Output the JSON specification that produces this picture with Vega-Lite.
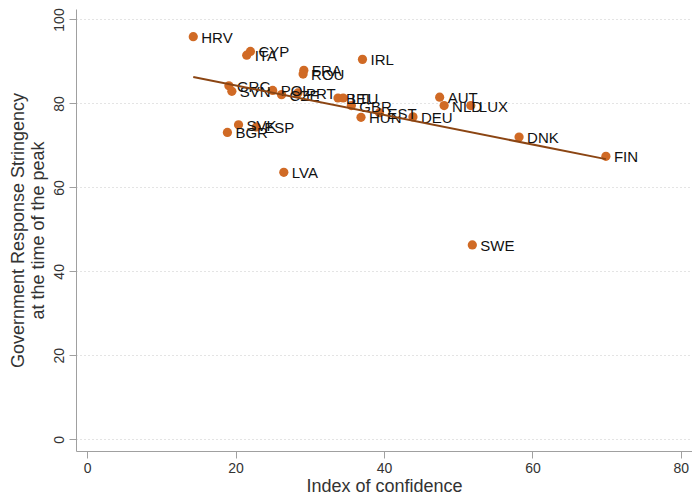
{
  "$schema": "https://vega.github.io/schema/vega-lite/v6.json",
  "autosize": {"type": "none"},
  "width": 616,
  "height": 442,
  "padding": {"left": 76, "top": 9, "right": 0, "bottom": 41},
  "background": "white",
  "config": {
    "view": {"stroke": null},
    "font": "Liberation Sans",
    "axis": {
      "domainColor": "#a0a0a0",
      "tickColor": "#a0a0a0",
      "labelColor": "#333333",
      "titleColor": "#333333",
      "labelFont": "Liberation Sans",
      "titleFont": "Liberation Sans",
      "labelFontSize": 14,
      "titleFontSize": 18,
      "titleFontWeight": "normal",
      "tickSize": 7
    }
  },
  "data": {
    "values": [
      {"country": "HRV", "x": 14.3, "y": 95.9},
      {"country": "CYP", "x": 22.0, "y": 92.4},
      {"country": "ITA", "x": 21.5, "y": 91.5},
      {"country": "FRA", "x": 29.2, "y": 87.9},
      {"country": "ROU", "x": 29.1, "y": 87.0},
      {"country": "IRL", "x": 37.1, "y": 90.5},
      {"country": "GRC", "x": 19.1, "y": 84.2},
      {"country": "SVN", "x": 19.5, "y": 82.9},
      {"country": "POL", "x": 25.0, "y": 83.1},
      {"country": "CZE", "x": 26.2, "y": 82.1},
      {"country": "PRT", "x": 28.4, "y": 82.5},
      {"country": "BEL", "x": 33.8, "y": 81.3},
      {"country": "LTU", "x": 34.5, "y": 81.3},
      {"country": "GBR", "x": 35.6, "y": 79.5},
      {"country": "EST", "x": 39.4, "y": 77.8},
      {"country": "HUN", "x": 36.9, "y": 76.7},
      {"country": "DEU", "x": 43.9, "y": 76.8},
      {"country": "AUT", "x": 47.5, "y": 81.5},
      {"country": "NLD", "x": 48.1, "y": 79.5},
      {"country": "LUX", "x": 51.7, "y": 79.5},
      {"country": "DNK", "x": 58.2, "y": 72.0},
      {"country": "FIN", "x": 69.9, "y": 67.4},
      {"country": "SWE", "x": 51.9, "y": 46.3},
      {"country": "SVK", "x": 20.4, "y": 74.9},
      {"country": "ESP", "x": 22.8, "y": 74.4},
      {"country": "BGR", "x": 18.9, "y": 73.1},
      {"country": "LVA", "x": 26.5, "y": 63.6}
    ]
  },
  "layer": [
    {
      "mark": {"type": "circle", "size": 85, "opacity": 1, "color": "#d06a25"},
      "encoding": {
        "x": {
          "field": "x", "type": "quantitative",
          "scale": {"domain": [-1.5, 81.5], "nice": false, "zero": false},
          "axis": {
            "title": "Index of confidence",
            "values": [0, 20, 40, 60, 80],
            "grid": false,
            "labelPadding": 3,
            "titlePadding": 2
          }
        },
        "y": {
          "field": "y", "type": "quantitative",
          "scale": {"domain": [-2.8, 102.5], "nice": false, "zero": false},
          "axis": {
            "title": ["Government Response Stringency", "at the time of the peak"],
            "values": [0, 20, 40, 60, 80, 100],
            "grid": true,
            "gridColor": "#c8c8c8",
            "gridDash": [1, 3],
            "gridWidth": 1,
            "labelAngle": -90,
            "labelAlign": "center",
            "labelBaseline": "bottom",
            "labelPadding": 3,
            "titlePadding": 5
          }
        }
      }
    },
    {
      "mark": {"type": "text", "align": "left", "baseline": "middle", "dx": 8, "dy": 1, "fontSize": 15, "color": "#111111", "font": "Liberation Sans"},
      "encoding": {
        "x": {"field": "x", "type": "quantitative"},
        "y": {"field": "y", "type": "quantitative"},
        "text": {"field": "country"}
      }
    },
    {
      "transform": [{"regression": "y", "on": "x"}],
      "mark": {"type": "line", "color": "#8b4513", "strokeWidth": 2},
      "encoding": {
        "x": {"field": "x", "type": "quantitative"},
        "y": {"field": "y", "type": "quantitative"}
      }
    }
  ]
}
